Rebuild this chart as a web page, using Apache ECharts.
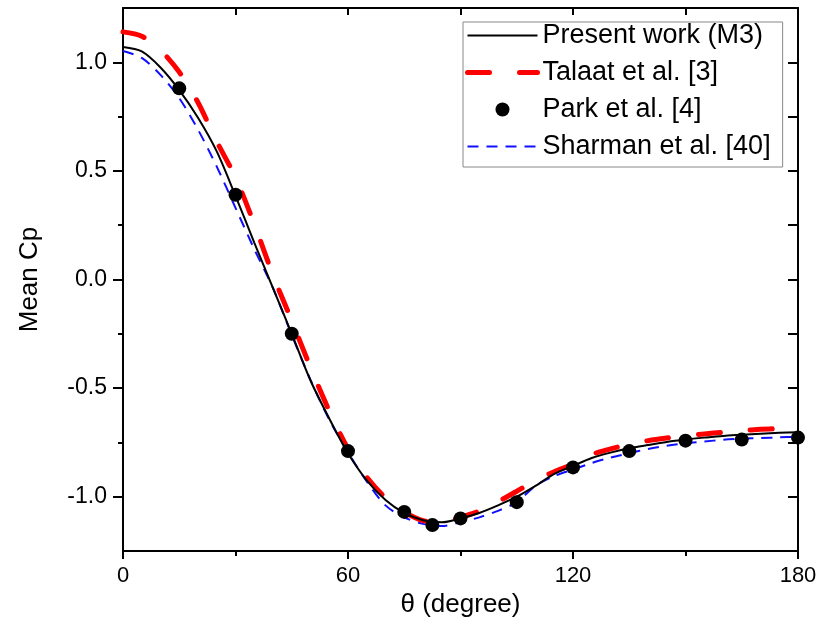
<!DOCTYPE html>
<html>
<head>
<meta charset="utf-8">
<script src="https://cdn.jsdelivr.net/npm/echarts@6/dist/echarts.min.js"></script>
<style>
html,body{margin:0;padding:0;background:#fff;}
#chart{width:818px;height:630px;}
</style>
</head>
<body>
<div id="chart"></div>
<script>
// ---- data ----
const theta = [0,5,10,15,20,25,30,35,40,45,50,55,60,65,70,75,80,85,90,95,100,105,110,115,120,125,130,135,140,145,150,155,160,165,170,175,180];
const presentWork = [1.07,1.05,0.976,0.872,0.745,0.59,0.385,0.17,-0.04,-0.25,-0.465,-0.64,-0.80,-0.925,-1.015,-1.075,-1.108,-1.118,-1.10,-1.075,-1.04,-1.0,-0.95,-0.895,-0.858,-0.822,-0.797,-0.777,-0.762,-0.748,-0.737,-0.728,-0.72,-0.715,-0.71,-0.706,-0.703];
const talaat = [1.14,1.12,1.056,0.955,0.815,0.635,0.47,0.255,0.02,-0.19,-0.405,-0.605,-0.78,-0.91,-1.005,-1.07,-1.11,-1.117,-1.095,-1.066,-1.023,-0.975,-0.925,-0.885,-0.85,-0.806,-0.78,-0.758,-0.742,-0.73,-0.72,-0.711,-0.703,-0.696,-0.69,-0.686,-0.684];
const sharman = [1.052,1.02,0.942,0.835,0.69,0.52,0.33,0.14,-0.04,-0.255,-0.462,-0.645,-0.795,-0.93,-1.04,-1.095,-1.125,-1.135,-1.118,-1.095,-1.065,-1.025,-0.95,-0.905,-0.875,-0.845,-0.82,-0.80,-0.78,-0.765,-0.754,-0.746,-0.738,-0.733,-0.73,-0.727,-0.724];
const parkTheta = [15,30,45,60,75,82.5,90,105,120,135,150,165,180];
const parkCp = [0.88,0.39,-0.25,-0.79,-1.07,-1.13,-1.10,-1.025,-0.865,-0.79,-0.742,-0.737,-0.728];
const yMajorTicks = [-1.0,-0.5,0.0,0.5,1.0];
const yMinorTicks = [-0.75,-0.25,0.25,0.75];
const yAllTicks = [-1.25,-1.0,-0.75,-0.5,-0.25,0,0.25,0.5,0.75,1.0,1.25];
const seriesNames = ['Present work (M3)','Talaat et al. [3]','Park et al. [4]','Sharman et al. [40]'];

const pair = (xs, ys) => xs.map((x, i) => [x, ys[i]]);
const FONT = 'Liberation Sans, Arial, sans-serif';

const chart = echarts.init(document.getElementById('chart'), null, {renderer: 'canvas'});
const axisLine = {show: true, onZero: false, lineStyle: {color: '#000', width: 2}};
const hideSym = {opacity: 0, color: 'rgba(0,0,0,0)', borderWidth: 0};
const option = {
  backgroundColor: '#fff',
  animation: false,
  textStyle: {fontFamily: FONT},
  grid: {left: 123, right: 20, top: 8, bottom: 79, containLabel: false, outerBoundsMode: 'none'},
  legend: {
    data: [
      {name: seriesNames[0], itemStyle: hideSym, lineStyle: {width: 2, color: '#000'}},
      {name: seriesNames[1], itemStyle: hideSym, lineStyle: {width: 5, color: '#ff0000', type: [22, 30], cap: 'round'}},
      {name: seriesNames[2]},
      {name: seriesNames[3], itemStyle: hideSym, lineStyle: {width: 2, color: '#1010ff', type: [11, 8]}}
    ],
    orient: 'vertical',
    left: 463, top: 22,
    padding: [0, 12, 7, 2],
    itemGap: 10,
    itemWidth: 70, itemHeight: 14,
    borderColor: '#888', borderWidth: 1,
    backgroundColor: '#fff',
    textStyle: {fontSize: 27, color: '#000', fontFamily: FONT}
  },
  xAxis: [
    {
      type: 'value', min: 0, max: 180, interval: 60, position: 'bottom',
      name: 'θ (degree)', nameLocation: 'middle', nameGap: 40,
      nameTextStyle: {fontSize: 26, color: '#000', fontFamily: FONT},
      axisLine: axisLine,
      axisTick: {show: true, inside: false, length: 8, lineStyle: {color: '#000', width: 2}},
      minorTick: {show: true, splitNumber: 2, length: 5, lineStyle: {color: '#000', width: 2}},
      axisLabel: {fontSize: 22, color: '#000', margin: 14, fontFamily: FONT},
      splitLine: {show: false}, minorSplitLine: {show: false}
    },
    {
      type: 'value', min: 0, max: 180, interval: 30, position: 'top',
      axisLine: axisLine,
      axisTick: {show: true, inside: true, length: 7, lineStyle: {color: '#000', width: 2}},
      axisLabel: {show: false}, splitLine: {show: false}
    }
  ],
  yAxis: [
    {
      type: 'value', min: -1.25, max: 1.25, position: 'left',
      name: 'Mean Cp', nameLocation: 'middle', nameGap: 80,
      nameTextStyle: {fontSize: 26, color: '#000', fontFamily: FONT},
      axisLine: axisLine,
      axisTick: {show: true, inside: false, length: 10, customValues: yMajorTicks, lineStyle: {color: '#000', width: 2}},
      axisLabel: {fontSize: 23, color: '#000', margin: 16, fontFamily: FONT, customValues: yMajorTicks,
        formatter: v => v.toFixed(1)},
      splitLine: {show: false}
    },
    {
      type: 'value', min: -1.25, max: 1.25, position: 'left',
      axisLine: {show: false, onZero: false},
      axisTick: {show: true, inside: false, length: 5, customValues: yMinorTicks, lineStyle: {color: '#000', width: 2}},
      axisLabel: {show: false}, splitLine: {show: false}
    },
    {
      type: 'value', min: -1.25, max: 1.25, position: 'right',
      axisLine: axisLine,
      axisTick: {show: true, inside: true, length: 10, customValues: yAllTicks, lineStyle: {color: '#000', width: 2}},
      axisLabel: {show: false}, splitLine: {show: false}
    }
  ],
  series: [
    {
      name: seriesNames[0], type: 'line', smooth: 0.3, symbol: 'none', z: 4,
      data: pair(theta, presentWork),
      itemStyle: {color: '#000'},
      lineStyle: {color: '#000', width: 2}
    },
    {
      name: seriesNames[1], type: 'line', smooth: 0.3, symbol: 'none', z: 3,
      data: pair(theta, talaat),
      itemStyle: {color: '#ff0000'},
      lineStyle: {color: '#ff0000', width: 5, type: [22, 30], cap: 'round'}
    },
    {
      name: seriesNames[2], type: 'scatter', symbol: 'circle', symbolSize: 14, z: 5,
      data: pair(parkTheta, parkCp),
      itemStyle: {color: '#000', opacity: 1}
    },
    {
      name: seriesNames[3], type: 'line', smooth: 0.3, symbol: 'none', z: 2,
      data: pair(theta, sharman),
      itemStyle: {color: '#1010ff'},
      lineStyle: {color: '#1010ff', width: 2, type: [11, 8]}
    }
  ]
};
chart.setOption(option);
</script>
</body>
</html>
